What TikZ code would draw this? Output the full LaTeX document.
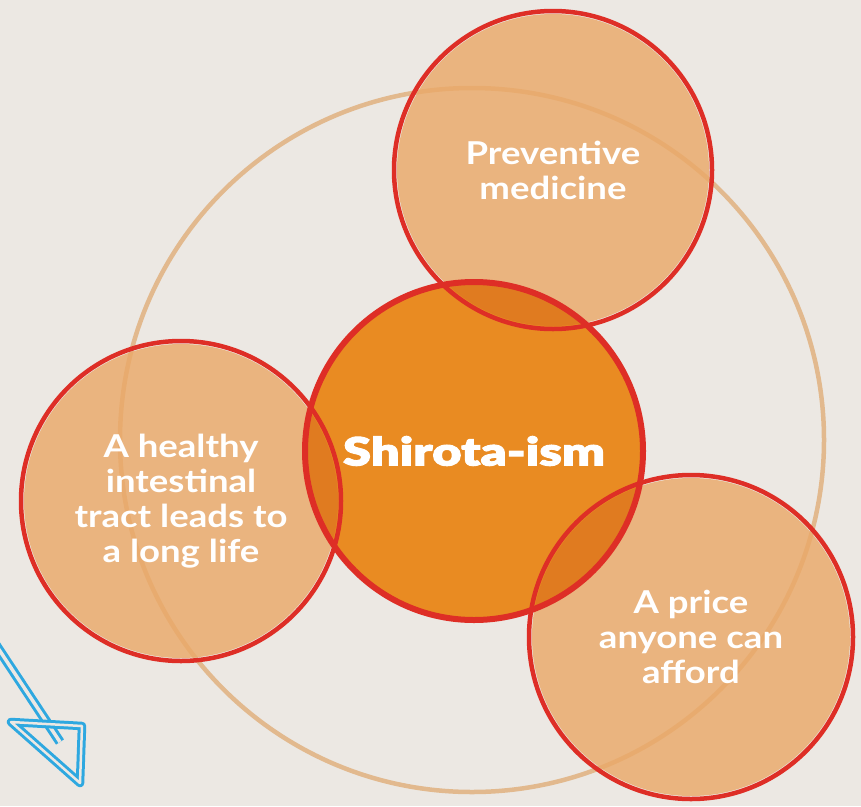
\documentclass[tikz,border=0pt]{standalone}
\usepackage{fontspec}
\setmainfont{Lato}
\newfontfamily\labelfont{Lato}[UprightFont=* Bold, FakeStretch=1.16]
\newfontfamily\heavyfont{Lato Black}[FakeStretch=1.3, FakeBold=2.5]
\usepackage{tikz}

\definecolor{paper}{HTML}{ECE8E3}
\definecolor{ringtan}{HTML}{E2B98E}
\definecolor{softtan}{HTML}{EAA969}
\definecolor{coreorange}{HTML}{E98B22}
\definecolor{overlaporange}{HTML}{E07B20}
\definecolor{ringred}{HTML}{DE2E26}
\definecolor{arrowblue}{HTML}{2EA8E0}

\begin{document}
\begin{tikzpicture}[x=1pt,y=-1pt]
	\tikzstyle{idea} = [circle, draw=ringred, line width=4.5pt, inner sep=0pt, align=center, text=white, font=\fontsize{31.5}{35}\labelfont]
	\tikzstyle{core} = [idea, line width=6pt, minimum size=338pt, font=\fontsize{39}{42}\heavyfont]
	\tikzstyle{tanfill} = [softtan, fill opacity=0.82]
	
	\fill[paper] (0,0) rectangle (861,806);
	\useasboundingbox (0,0) rectangle (861,806);
	
	\coordinate (cprevent) at (553,170);
	\coordinate (chealth) at (181,501);
	\coordinate (cprice) at (691,637);
	\coordinate (ccore) at (474,451);
	
	%big ring
	\draw[ringtan, line width=4.5pt] (472,440) circle[radius=352];
	
	%fills
	\foreach \c/\r in {cprevent/156, chealth/157, cprice/159}
		\fill[tanfill] (\c) circle[radius=\r];
	\fill[coreorange] (ccore) circle[radius=168];
	\begin{scope}
		\clip (ccore) circle[radius=168];
		\foreach \c/\r in {cprevent/156, chealth/157, cprice/159}
			\fill[overlaporange] (\c) circle[radius=\r];
	\end{scope}
	
	%circles
	\node[idea, minimum size=318pt] (prevent) at (cprevent) {Preventive\\medicine};
	\node[idea, minimum size=320pt] (health) at (chealth) {A healthy\\intestinal\\tract leads to\\a long life};
	\node[idea, minimum size=324pt] (price) at (cprice) {A price\\anyone can\\afford};
	\node[core] (core) at (ccore) {Shirota-ism};
	
	%arrow
	\coordinate (arrowtail) at (-6,642);
	\coordinate (arrowtip) at (80,783);
	\draw[arrowblue, line width=3pt, double=paper, double distance=3.5pt] (arrowtail) -- (60,742);
	\draw[arrowblue, line width=3pt, double=paper, double distance=2.5pt, line join=round] (arrowtip) -- (11,722) -- (82,726) -- cycle;
	
\end{tikzpicture}
\end{document}
